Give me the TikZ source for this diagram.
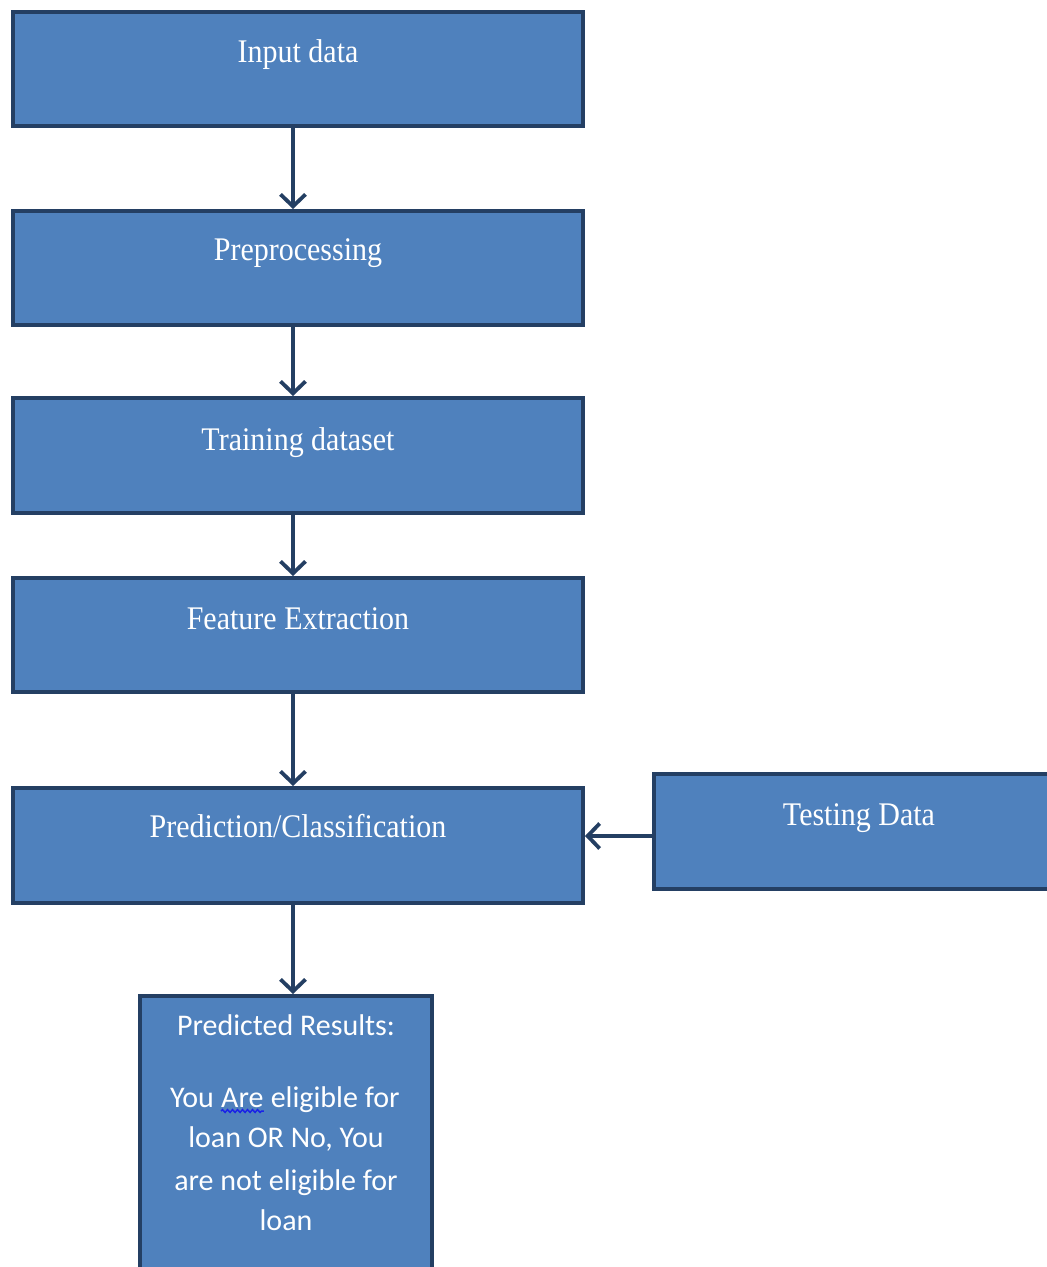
\documentclass[tikz,border=0pt]{standalone}
\usepackage{fontspec}
\setmainfont{Liberation Serif}
\newfontfamily\resfont{Carlito}
\usetikzlibrary{arrows.meta,decorations.pathmorphing}

\definecolor{boxfill}{HTML}{4F81BD}
\definecolor{boxline}{HTML}{243F63}
\definecolor{spellblue}{HTML}{1A22E8}

\tikzset{
  stepbox/.style={draw=boxline, fill=boxfill, line width=4pt, rectangle, inner sep=0pt},
  steptext/.style={text=white, anchor=base, inner sep=0pt, font=\fontsize{30}{36}\selectfont},
  restext/.style={text=white, anchor=base, inner sep=0pt, font=\resfont\fontsize{30}{36}\selectfont},
  flow/.style={draw=boxline, line width=3.8pt,
    -{Straight Barb[length=12pt,width=25pt]}},
  spell/.style={draw=spellblue, line width=1.5pt,
    decorate, decoration={snake, amplitude=1.4pt, segment length=5pt}}
}

\begin{document}
\begin{tikzpicture}[x=1pt,y=-1pt]
  \useasboundingbox (0,0) rectangle (1047,1267);
  \clip (0,0) rectangle (1047,1267);
  \fill[white] (0,0) rectangle (1047,1267);

  % process boxes
  \node[stepbox, minimum width=570pt, minimum height=114pt] (b1) at (298,69) {};
  \node[stepbox, minimum width=570pt, minimum height=114pt] (b2) at (298,268) {};
  \node[stepbox, minimum width=570pt, minimum height=115pt] (b3) at (298,455.5) {};
  \node[stepbox, minimum width=570pt, minimum height=114pt] (b4) at (298,635) {};
  \node[stepbox, minimum width=570pt, minimum height=115pt] (b5) at (298,845.5) {};
  \node[stepbox, minimum width=406pt, minimum height=115pt] (test) at (857,831.5) {};
  \node[stepbox, minimum width=292pt, minimum height=279pt] (res) at (286,1135.5) {};

  % box titles
  \node[steptext] (t1) at (298,62) {\scalebox{1}[1.1]{Input data}};
  \node[steptext] (t2) at (298,260) {\scalebox{1}[1.1]{Preprocessing}};
  \node[steptext] (t3) at (298,450) {\scalebox{1}[1.1]{Training dataset}};
  \node[steptext] (t4) at (298,629) {\scalebox{1}[1.1]{Feature Extraction}};
  \node[steptext] (t5) at (298,837) {\scalebox{1}[1.1]{Prediction/Classification}};
  \node[steptext] (tt) at (859,825) {\scalebox{1}[1.1]{Testing Data}};

  % result text
  \node[restext] (r1) at (286,1035) {Predicted Results:};
  \node[restext, anchor=base west] (are) at (221,1107) {Are};
  \node[restext, anchor=base east] (you) at ([xshift=-6.8pt]are.base west) {You};
  \node[restext, anchor=base west] (elig) at ([xshift=6.8pt]are.base east) {eligible for};
  \node[restext] (r3) at (286,1147) {loan OR No, You};
  \node[restext] (r4) at (286,1190) {are not eligible for};
  \node[restext] (r5) at (286,1230) {loan};

  % spelling mark under "Are"
  \coordinate (spA) at ([yshift=-4pt]are.base west);
  \coordinate (spB) at ([yshift=-4pt]are.base east);
  \draw[spell] (spA) -- (spB);

  % connectors
  \coordinate (spine) at (293,0);
  \coordinate (side) at (0,836);
  \draw[flow] (b1.south -| spine) -- (b2.north -| spine);
  \draw[flow] (b2.south -| spine) -- (b3.north -| spine);
  \draw[flow] (b3.south -| spine) -- (b4.north -| spine);
  \draw[flow] (b4.south -| spine) -- (b5.north -| spine);
  \draw[flow] (b5.south -| spine) -- (res.north -| spine);
  \draw[flow] (test.west |- side) -- (b5.east |- side);
\end{tikzpicture}
\end{document}
